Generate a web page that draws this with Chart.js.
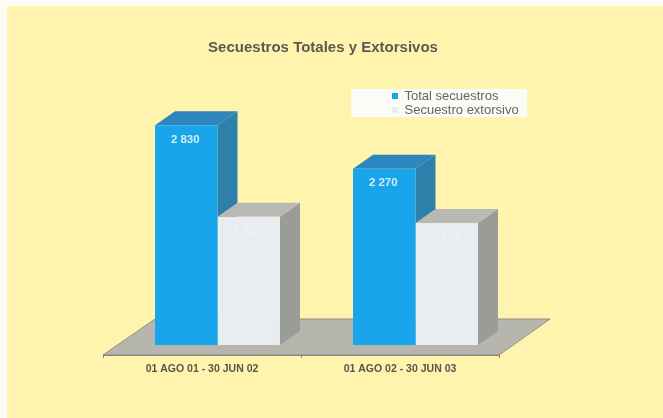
<!DOCTYPE html>
<html>
<head>
<meta charset="utf-8">
<title>Secuestros Totales y Extorsivos</title>
<script src="https://cdn.jsdelivr.net/npm/chart.js@4"></script>
<style>
  html, body { margin: 0; padding: 0; background: #fdfbf6; overflow: hidden; }
  #paper { position: absolute; left: 7px; top: 6px; right: 0; bottom: 0; background: #fef4ae; }
  #sketch { position: absolute; left: 0; top: 0; }
</style>
</head>
<body>
<div id="paper"></div>
<canvas id="sketch" width="663" height="418"></canvas>
<script>
const chartTitle = 'Secuestros Totales y Extorsivos';
const periods = ['01 AGO 01 - 30 JUN 02', '01 AGO 02 - 30 JUN 03'];
const seriesNames = ['Total secuestros', 'Secuestro extorsivo'];
const totalSecuestros = [2830, 2270];
const secuestroExtorsivo = [1650, 1570];

const fontName = '"Liberation Sans", Arial, sans-serif';

// fake 3D: how far the depth faces go back, and how far the bars stand from the axis
const depthX = 20;
const depthY = 14;
const barShift = 15.5;

const faces = [
  { top: '#2b87bd', side: '#2f7fab', label: '#d3ecf8' },
  { top: '#b9b9b4', side: '#9b9b97', label: '#eff2f4' },
];

function formatValue(v) {
  return String(v).replace(/\B(?=(\d{3})+$)/g, ' ');
}

const fake3d = {
  id: 'fake3d',
  afterLayout(chart) {
    // title and legend do not sit where the layout would put them
    chart.titleBlock.left = 7;
    chart.titleBlock.right = 639;
    chart.titleBlock.top = 39;
    chart.titleBlock.bottom = 57;
    const legend = chart.legend;
    const w = legend.width;
    const h = legend.height;
    legend.left = 391;
    legend.right = 391 + w;
    legend.top = 88.5;
    legend.bottom = 88.5 + h;
  },
  beforeDraw(chart) {
    const ctx = chart.ctx;
    const area = chart.chartArea;
    // legend box
    ctx.fillStyle = '#fbfbf8';
    ctx.fillRect(351, 89, 176, 28);
    // floor
    ctx.fillStyle = '#b6b6ae';
    ctx.strokeStyle = '#8f8f85';
    ctx.lineWidth = 1;
    ctx.beginPath();
    ctx.moveTo(area.left, area.bottom);
    ctx.lineTo(area.right, area.bottom);
    ctx.lineTo(area.right + 51, area.bottom - 36);
    ctx.lineTo(area.left + 52, area.bottom - 36);
    ctx.closePath();
    ctx.fill();
    ctx.stroke();
  },
  beforeDatasetsDraw(chart) {
    const ctx = chart.ctx;
    ctx.save();
    ctx.translate(barShift, 0);
    chart.data.datasets.forEach((ds, i) => {
      chart.getDatasetMeta(i).data.forEach((bar) => {
        const { x, y, base, width } = bar.getProps(['x', 'y', 'base', 'width'], true);
        const l = x - width / 2;
        const r = x + width / 2;
        ctx.fillStyle = faces[i].side;
        ctx.beginPath();
        ctx.moveTo(r, y);
        ctx.lineTo(r + depthX, y - depthY);
        ctx.lineTo(r + depthX, base - depthY);
        ctx.lineTo(r, base);
        ctx.closePath();
        ctx.fill();
        ctx.fillStyle = faces[i].top;
        ctx.beginPath();
        ctx.moveTo(l, y);
        ctx.lineTo(l + depthX, y - depthY);
        ctx.lineTo(r + depthX, y - depthY);
        ctx.lineTo(r, y);
        ctx.closePath();
        ctx.fill();
      });
    });
  },
  afterDatasetsDraw(chart) {
    const ctx = chart.ctx;
    ctx.restore();
    ctx.save();
    ctx.font = 'bold 11.5px ' + fontName;
    ctx.textAlign = 'center';
    ctx.textBaseline = 'middle';
    chart.data.datasets.forEach((ds, i) => {
      chart.getDatasetMeta(i).data.forEach((bar, j) => {
        ctx.fillStyle = faces[i].label;
        ctx.fillText(formatValue(ds.data[j]), bar.x + barShift - 1, bar.y + 14.5);
      });
    });
    ctx.restore();
  },
};

new Chart(document.getElementById('sketch').getContext('2d'), {
  type: 'bar',
  data: {
    labels: periods,
    datasets: [
      { label: seriesNames[0], data: totalSecuestros, backgroundColor: '#19a5ec' },
      { label: seriesNames[1], data: secuestroExtorsivo, backgroundColor: '#e8edf0' },
    ],
  },
  options: {
    responsive: false,
    animation: false,
    devicePixelRatio: 1,
    layout: { padding: { top: 94, right: 164, bottom: 43, left: 103 } },
    datasets: { bar: { categoryPercentage: 0.631, barPercentage: 1, borderWidth: 0 } },
    scales: {
      x: {
        afterFit(scale) { scale.height = 20; },
        border: { color: '#85857a' },
        grid: { drawOnChartArea: false, color: '#85857a', tickLength: 3 },
        ticks: {
          color: '#56564c',
          font: { family: fontName, size: 10.5, weight: 'bold' },
          padding: 5,
          maxRotation: 0,
        },
      },
      y: { display: false, min: -129, max: 3000 },
    },
    plugins: {
      tooltip: { enabled: false },
      title: {
        display: true,
        text: chartTitle,
        color: '#5a5a50',
        padding: 0,
        font: { family: fontName, size: 15, weight: 'bold', lineHeight: 1.2 },
      },
      legend: {
        position: 'chartArea',
        align: 'start',
        labels: {
          boxWidth: 6,
          boxHeight: 6,
          padding: 1,
          color: '#66665e',
          font: { family: fontName, size: 13 },
        },
      },
    },
  },
  plugins: [fake3d],
});
</script>
</body>
</html>
